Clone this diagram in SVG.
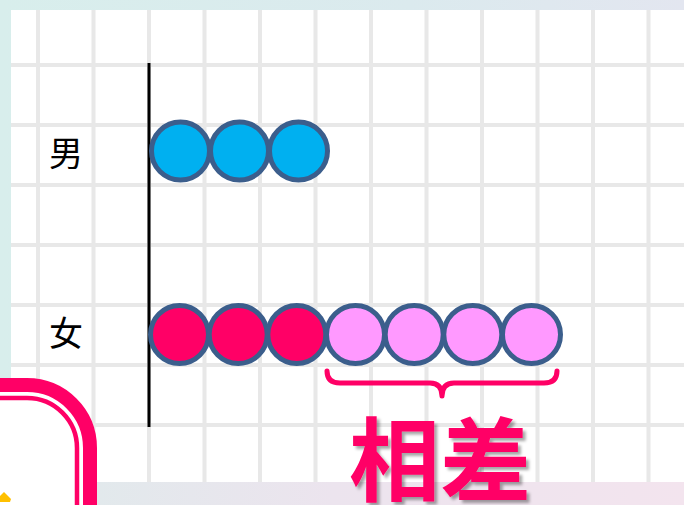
<svg xmlns="http://www.w3.org/2000/svg" width="684" height="505" viewBox="0 0 684 505">
<defs>
<linearGradient id="bg" x1="0" y1="0" x2="1" y2="0">
<stop offset="0" stop-color="#d8eeec"/>
<stop offset="0.6" stop-color="#dbeaee"/>
<stop offset="1" stop-color="#e3e6f0"/>
</linearGradient>
<linearGradient id="strip" x1="0" y1="0" x2="1" y2="0">
<stop offset="0" stop-color="#e2e9ec"/>
<stop offset="0.4" stop-color="#ece4ee"/>
<stop offset="1" stop-color="#f3e4ee"/>
</linearGradient>
<filter id="sh" x="-10%" y="-10%" width="130%" height="130%">
<feDropShadow dx="3" dy="3" stdDeviation="1.5" flood-color="#000" flood-opacity="0.35"/>
</filter>
<style>
.g{stroke:#e8e8e8;stroke-width:4;fill:none}
.c{stroke:#3b5e8c;stroke-width:5}
.blue{fill:#00b0f0}
.red{fill:#ff0066}
.pink{fill:#ff99ff}
.lbl{font-family:"Noto Sans CJK SC","Noto Sans CJK JP",sans-serif;font-size:34px;fill:#000;text-anchor:middle}
.big{font-family:"Noto Sans CJK SC","Noto Sans CJK JP",sans-serif;font-size:91px;font-weight:bold;fill:#ff0066;text-anchor:middle}
</style>
</defs>
<rect x="0" y="0" width="684" height="505" fill="url(#bg)"/>
<rect x="11" y="10" width="673" height="472" fill="#fff"/>
<rect x="97" y="482" width="587" height="23" fill="url(#strip)"/>
<g id="grid">
<path class="g" d="M38 10V482M93.5 10V482M204.5 10V482M260 10V482M315.5 10V482M371 10V482M426.5 10V482M482 10V482M537.5 10V482M593 10V482M648.5 10V482M149 10V482"/>
<path class="g" d="M11 65H684M11 125H684M11 185H684M11 245H684M11 305H684M11 365H684M11 425H684"/>
</g>
<g id="frame">
<path d="M-10 378 H27 A70 70 0 0 1 97 448 V515 H-10 Z" fill="#fff"/>
<path d="M-10 385 H27 A63 63 0 0 1 90 448 V515" fill="none" stroke="#ff0066" stroke-width="14"/>
<path d="M-10 398 H27 A50 50 0 0 1 77 448 V515" fill="none" stroke="#ff0066" stroke-width="4.5"/>
<polygon points="0,496 4,492 11,499 10,502 0,502" fill="#ffc000"/>
</g>
<g id="axis"><line x1="149" y1="63" x2="149" y2="427" stroke="#000" stroke-width="3"/></g>
<g id="label-male"><text class="lbl" x="66" y="166">男</text></g>
<g id="label-female"><text class="lbl" x="66" y="346">女</text></g>
<g id="row-male">
<circle class="c blue" cx="180.5" cy="151" r="29"/>
<circle class="c blue" cx="239.5" cy="151" r="29"/>
<circle class="c blue" cx="298.5" cy="151" r="29"/>
</g>
<g id="row-female">
<circle class="c red" cx="179.5" cy="334.5" r="29"/>
<circle class="c red" cx="238.2" cy="334.5" r="29"/>
<circle class="c red" cx="296.8" cy="334.5" r="29"/>
<circle class="c pink" cx="355.5" cy="334.5" r="29"/>
<circle class="c pink" cx="414.2" cy="334.5" r="29"/>
<circle class="c pink" cx="472.8" cy="334.5" r="29"/>
<circle class="c pink" cx="531.5" cy="334.5" r="29"/>
</g>
<g id="connectors">
<path d="M327 371 Q327 383 340 383 H430 Q442 383 442 396 Q442 383 454 383 H544 Q557 383 557 371" fill="none" stroke="#ff0066" stroke-width="5" stroke-linecap="round" stroke-linejoin="round"/>
</g>
<g id="label-diff"><text class="big" x="440" y="494" filter="url(#sh)">相差</text></g>
</svg>
